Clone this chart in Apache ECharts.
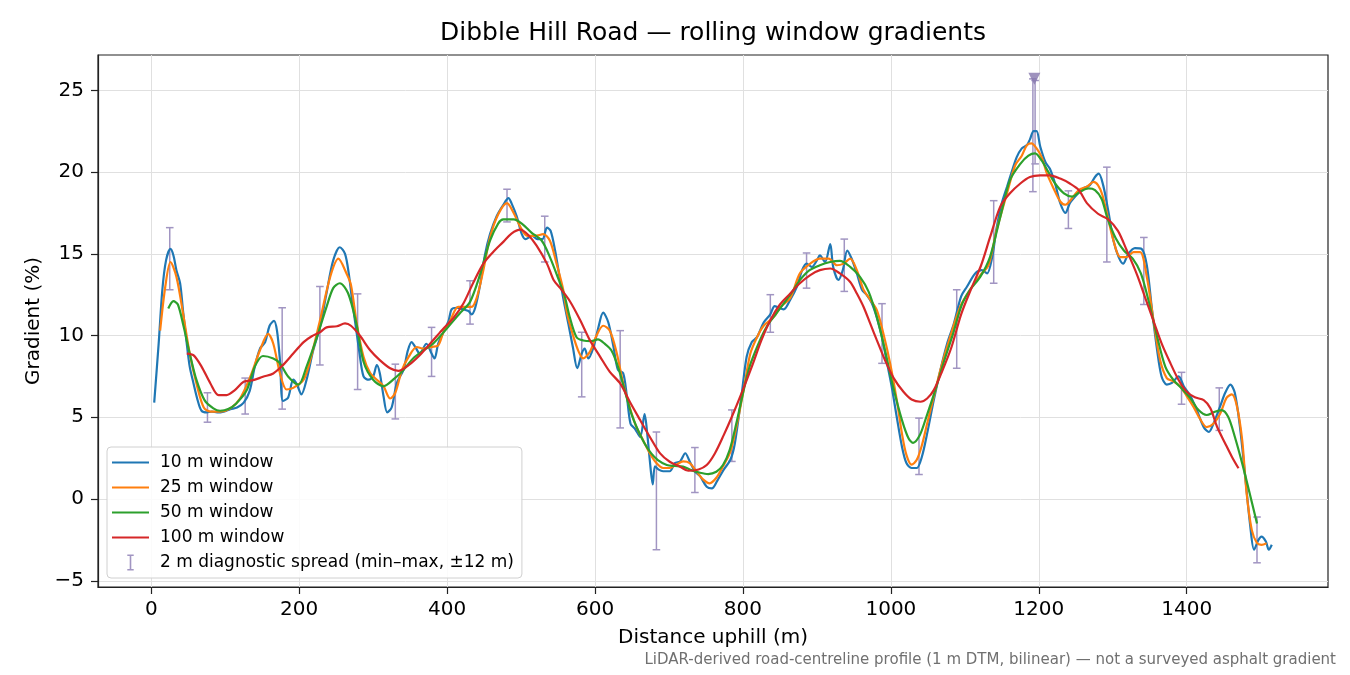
<!DOCTYPE html>
<html>
<head>
<meta charset="utf-8">
<script src="https://cdn.jsdelivr.net/npm/echarts@6/dist/echarts.min.js"></script>
<style>
html, body { margin: 0; padding: 0; background: #fff; }
#chart { width: 1350px; height: 675px; }
</style>
</head>
<body>
<div id="chart"></div>
<script>
// distance (m), gradient (%)
var win10 = [[4,5.9],[10,9.5],[15,12.8],[20,14.6],[26,15.3],[30,14.9],[34,14.0],[39,13.2],[43,11.5],[48,9.5],
  [52,8.1],[57,7.1],[63,6.0],[68,5.4],[75,5.3],[82,5.35],[89,5.3],[98,5.35],[107,5.5],[116,5.6],
  [125,5.9],[133,6.6],[140,8.1],[147,9.2],[154,9.6],[160,10.6],[166,10.9],[170,10.3],[174,8.5],[178,6.0],
  [185,6.2],[192,7.3],[197,7.0],[203,6.4],[210,7.3],[219,9.1],[228,10.5],[237,12.6],[246,14.6],[255,15.4],
  [262,15.0],[267,13.8],[272,12.0],[277,10.4],[281,9.1],[287,7.5],[294,7.3],[300,7.5],[305,8.2],[309,7.7],
  [314,6.3],[319,5.3],[325,5.6],[332,7.1],[341,7.9],[347,9.1],[352,9.6],[357,9.3],[363,8.9],[372,9.5],
  [379,8.9],[383,8.6],[388,9.5],[395,10.2],[402,10.9],[406,11.6],[413,11.7],[422,11.6],[429,11.5],[433,11.3],
  [438,11.7],[445,13.2],[451,14.9],[458,16.2],[467,17.3],[476,18.0],[483,18.4],[487,18.1],[494,17.3],[501,16.2],
  [506,15.9],[515,16.1],[522,15.9],[529,15.9],[535,16.6],[540,16.4],[546,15.2],[552,13.6],[557,12.3],[564,10.7],
  [570,9.3],[576,8.0],[582,8.9],[586,9.2],[591,8.6],[598,9.3],[604,10.4],[611,11.4],[618,10.8],[625,9.3],
  [631,7.9],[638,7.7],[643,6.3],[648,4.6],[654,4.3],[661,3.8],[667,5.2],[671,3.8],[674,2.4],[678,0.9],
  [681,2.0],[686,1.8],[692,1.7],[701,1.7],[708,2.2],[715,2.3],[722,2.8],[728,2.3],[735,1.7],[742,1.4],
  [751,0.75],[758,0.65],[765,1.1],[774,1.8],[783,2.4],[789,3.4],[798,6.3],[805,8.7],[812,9.6],[819,9.9],
  [828,10.8],[837,11.3],[843,11.8],[855,11.6],[864,12.2],[873,13.0],[880,14.0],[886,14.4],[893,14.2],[900,14.6],
  [904,14.9],[911,14.5],[918,15.6],[922,14.2],[929,13.4],[935,14.0],[941,15.2],[947,14.7],[954,13.8],[961,12.8],
  [967,12.5],[974,12.0],[981,11.1],[988,9.9],[994,8.5],[1001,6.9],[1008,5.0],[1015,3.2],[1021,2.2],[1028,1.9],
  [1035,1.9],[1042,2.6],[1049,4.0],[1058,6.05],[1067,7.9],[1076,9.5],[1085,10.7],[1095,12.4],[1103,13.0],[1114,13.8],
  [1123,14.0],[1130,13.8],[1137,14.8],[1143,16.6],[1150,18.1],[1157,19.1],[1164,20.1],[1170,20.9],[1177,21.45],[1184,21.65],
  [1188,22.0],[1193,22.5],[1197,22.5],[1202,21.55],[1209,20.6],[1215,20.2],[1222,19.3],[1229,18.1],[1236,17.5],[1242,18.1],
  [1251,18.6],[1260,19.0],[1269,19.2],[1276,19.7],[1281,19.9],[1287,19.2],[1294,17.6],[1301,15.8],[1308,14.8],[1314,14.4],
  [1321,15.0],[1330,15.35],[1339,15.3],[1346,14.3],[1353,11.6],[1360,9.1],[1366,7.5],[1373,7.0],[1380,7.1],[1389,7.5],
  [1396,6.9],[1405,6.3],[1414,5.4],[1423,4.4],[1430,4.1],[1436,4.6],[1445,5.65],[1452,6.5],[1459,7.0],[1465,6.5],
  [1472,4.4],[1479,1.4],[1486,-1.7],[1491,-3.1],[1497,-2.5],[1501,-2.3],[1507,-2.6],[1511,-3.1],[1515,-2.8]];

var win25 = [[12,10.3],[19,13.0],[26,14.5],[34,13.6],[43,11.35],[52,8.9],[62,6.9],[71,5.6],[80,5.35],[93,5.35],
  [107,5.55],[120,6.15],[134,7.5],[147,9.1],[158,10.1],[165,9.5],[174,7.7],[183,6.7],[192,6.8],[206,7.3],
  [215,8.5],[228,10.9],[242,13.6],[253,14.7],[264,13.8],[270,13.1],[278,10.7],[287,8.7],[296,7.7],[305,7.3],
  [314,6.9],[323,6.15],[330,6.5],[339,7.9],[348,8.7],[359,9.3],[368,9.2],[379,9.3],[388,9.4],[395,10.2],
  [404,10.9],[415,11.75],[424,11.75],[433,11.75],[440,12.3],[449,14.0],[458,16.0],[469,17.4],[481,18.1],[490,17.5],
  [499,16.65],[508,16.1],[519,16.1],[530,16.2],[539,15.8],[548,14.4],[557,12.8],[562,11.4],[571,9.9],[578,9.0],
  [584,8.6],[593,9.0],[602,10.0],[611,10.6],[620,10.3],[629,9.0],[638,7.1],[647,5.6],[656,4.4],[665,3.6],
  [674,2.8],[683,2.2],[692,1.9],[701,1.9],[710,2.1],[719,2.3],[728,2.2],[737,1.7],[746,1.2],[755,0.96],
  [764,1.3],[773,2.0],[783,2.9],[792,4.6],[801,6.7],[810,8.9],[819,9.9],[828,10.6],[841,11.1],[852,11.8],
  [864,12.3],[877,13.8],[891,14.4],[904,14.7],[916,14.7],[927,14.3],[936,14.4],[945,14.7],[954,14.0],[963,12.8],
  [972,12.2],[981,11.55],[990,10.1],[999,8.3],[1008,6.05],[1015,4.0],[1021,2.7],[1028,2.1],[1035,2.4],[1042,3.3],
  [1049,4.6],[1058,6.25],[1067,7.9],[1080,9.9],[1094,11.8],[1107,12.8],[1121,13.7],[1132,14.3],[1143,16.45],[1157,18.7],
  [1168,20.4],[1177,21.0],[1184,21.65],[1190,21.75],[1197,21.45],[1204,20.9],[1211,19.9],[1220,19.0],[1229,18.2],[1236,18.0],
  [1245,18.4],[1254,18.9],[1265,19.1],[1274,19.4],[1280,19.2],[1286,18.6],[1294,17.1],[1301,15.8],[1310,14.8],[1319,14.8],
  [1328,15.1],[1337,15.1],[1346,13.6],[1355,10.95],[1364,8.5],[1373,7.4],[1382,7.2],[1391,6.9],[1400,6.3],[1409,5.65],
  [1418,4.9],[1427,4.4],[1436,4.6],[1445,5.2],[1454,6.2],[1461,6.4],[1468,5.65],[1475,3.6],[1481,0.35],[1488,-1.9],
  [1495,-2.7],[1501,-2.8],[1508,-2.7]];

var win50 = [[23,11.65],[30,12.1],[36,11.9],[43,10.7],[52,8.9],[61,7.3],[72,6.05],[84,5.55],[93,5.4],[104,5.5],
  [115,5.85],[129,6.65],[140,8.1],[151,8.75],[165,8.6],[174,8.3],[185,7.5],[199,7.0],[210,8.1],[224,9.9],
  [237,11.75],[246,12.9],[255,13.2],[266,12.6],[277,10.8],[287,8.4],[300,7.3],[314,6.9],[327,7.3],[341,7.9],
  [354,8.6],[368,9.1],[381,9.5],[399,10.4],[417,11.35],[431,12.06],[445,13.8],[458,15.8],[469,16.85],[476,17.1],
  [490,17.1],[501,16.85],[514,16.3],[528,15.8],[539,14.8],[551,13.4],[559,12.4],[566,11.1],[575,9.9],[584,9.7],
  [595,9.66],[604,9.76],[613,9.5],[622,9.1],[631,8.1],[640,6.66],[649,5.24],[658,4.22],[667,3.4],[676,2.79],
  [685,2.38],[697,2.08],[708,2.02],[719,1.98],[730,1.77],[742,1.61],[753,1.53],[764,1.67],[773,2.08],[782,3.0],
  [791,4.62],[800,6.46],[809,8.1],[821,9.5],[832,10.53],[845,11.35],[864,12.5],[877,13.39],[890,14.0],[904,14.3],
  [918,14.5],[931,14.57],[945,14.2],[958,13.6],[970,12.67],[981,11.14],[992,9.1],[1003,6.87],[1015,4.83],[1024,3.7],
  [1030,3.44],[1039,3.9],[1048,5.03],[1060,6.66],[1071,8.3],[1084,10.1],[1096,11.9],[1107,12.8],[1121,13.6],[1134,14.8],
  [1148,17.27],[1161,19.5],[1175,20.5],[1186,21.0],[1195,21.14],[1204,20.7],[1213,20.0],[1222,19.3],[1234,18.7],[1245,18.5],
  [1256,18.8],[1267,19.0],[1276,18.9],[1285,18.35],[1293,17.15],[1304,15.95],[1315,15.2],[1327,14.7],[1338,13.8],[1348,12.2],
  [1360,9.93],[1371,8.1],[1382,7.28],[1393,6.77],[1405,6.16],[1416,5.44],[1427,5.14],[1438,5.34],[1447,5.44],[1456,5.03],
  [1465,3.81],[1475,2.18],[1484,0.55],[1495,-1.49]];

var win100 = [[48,8.9],[57,8.8],[68,8.1],[80,7.07],[91,6.36],[102,6.36],[113,6.66],[125,7.17],[138,7.27],[151,7.48],
  [165,7.68],[178,8.19],[192,8.9],[206,9.6],[217,9.96],[228,10.2],[237,10.5],[251,10.57],[262,10.74],[270,10.6],
  [282,10.0],[296,9.1],[309,8.5],[323,8.0],[334,7.84],[348,8.19],[363,8.8],[377,9.5],[393,10.33],[408,11.04],
  [422,11.96],[435,13.2],[449,14.4],[462,15.1],[476,15.73],[487,16.24],[499,16.48],[510,16.14],[521,15.5],[535,14.4],
  [544,13.4],[553,12.9],[566,12.1],[580,10.94],[593,9.72],[607,8.7],[620,7.78],[634,7.07],[647,5.95],[661,4.83],
  [674,3.81],[688,2.79],[701,2.28],[715,1.98],[726,1.73],[740,1.81],[751,2.08],[762,2.79],[774,3.91],[785,5.03],
  [798,6.46],[812,8.1],[825,9.72],[837,10.94],[850,11.9],[864,12.57],[877,13.2],[891,13.7],[904,14.0],[918,14.1],
  [931,13.8],[945,13.28],[954,12.57],[963,11.76],[972,10.74],[981,9.72],[992,8.5],[1004,7.38],[1017,6.56],[1028,6.09],
  [1040,5.95],[1049,6.15],[1058,6.66],[1069,7.78],[1082,9.3],[1095,11.3],[1108,12.8],[1122,14.3],[1134,16.0],[1148,17.9],
  [1161,18.7],[1175,19.3],[1188,19.7],[1202,19.8],[1215,19.8],[1229,19.6],[1242,19.3],[1254,18.9],[1265,18.1],[1280,17.45],
  [1294,17.1],[1307,16.4],[1319,15.2],[1333,13.7],[1345,12.17],[1355,10.9],[1366,9.52],[1378,8.3],[1389,7.28],[1400,6.56],
  [1411,6.22],[1423,6.05],[1432,5.55],[1441,4.42],[1452,3.4],[1461,2.59],[1470,1.88]];

// 2 m diagnostic spread: centre distance, min, max
var spreadX = [25,76,127,177,228,279,330,379,431,481,532,582,634,683,735,785,837,886,937,988,1038,1089,1139,1192,1195,1240,1292,1342,1393,1444,1495];
var spreadMin = [12.8,4.7,5.2,5.5,8.2,6.7,4.9,7.5,10.7,16.95,14.5,6.25,4.35,-3.1,0.4,2.3,10.2,12.9,12.7,8.3,1.5,8.0,13.2,18.8,20.5,16.55,14.5,11.9,5.8,4.2,-3.9];
var spreadMax = [16.6,6.5,7.4,11.7,13.0,12.55,8.25,10.5,13.35,18.95,17.3,10.2,10.3,4.1,3.15,5.45,12.5,15.05,15.9,11.95,4.95,12.8,18.25,25.7,25.6,18.85,20.3,16.0,7.75,6.8,-1.1];

var steepest = [[1194, 25.7]];

var xTicks = [0, 200, 400, 600, 800, 1000, 1200, 1400];
var yTicks = [-5, 0, 5, 10, 15, 20, 25];

var spreadData = [];
for (var i = 0; i < spreadX.length; i++) {
    spreadData.push([spreadX[i], spreadMin[i], spreadMax[i]]);
}

var font = 'DejaVu Sans';
var spreadColor = '#a195c2';
var lineIcon = 'path://M0,0H37V2.2H0Z';

function renderSpread(params, api) {
    var lo = api.coord([api.value(0), api.value(1)]);
    var hi = api.coord([api.value(0), api.value(2)]);
    var w = 3.8;
    var st = { stroke: spreadColor, lineWidth: 1.5, fill: null };
    return {
        type: 'group',
        children: [
            { type: 'line', shape: { x1: lo[0], y1: lo[1], x2: hi[0], y2: hi[1] }, style: st },
            { type: 'line', shape: { x1: lo[0] - w, y1: lo[1], x2: lo[0] + w, y2: lo[1] }, style: st },
            { type: 'line', shape: { x1: hi[0] - w, y1: hi[1], x2: hi[0] + w, y2: hi[1] }, style: st }
        ]
    };
}

function lineSeries(name, data, color, z) {
    return {
        name: name,
        type: 'line',
        data: data,
        symbol: 'none',
        smooth: 0.3,
        z: z,
        lineStyle: { color: color, width: 2.2 },
        itemStyle: { color: color }
    };
}

var myChart = echarts.init(document.getElementById('chart'));

var option = {
    animation: false,
    backgroundColor: '#fff',
    title: {
        text: 'Dibble Hill Road \u2014 rolling window gradients',
        left: 713,
        top: 21,
        padding: 0,
        textAlign: 'center',
        textStyle: { fontFamily: font, fontSize: 25, fontWeight: 'normal', color: '#000' }
    },
    grid: {
        left: 98, right: 22, top: 55, bottom: 88,
        show: true, borderColor: '#222', borderWidth: 1.2, backgroundColor: 'transparent'
    },
    legend: {
        orient: 'vertical',
        left: 107,
        top: 447,
        padding: [7, 8, 7, 5],
        itemWidth: 37,
        itemHeight: 16,
        itemGap: 8,
        backgroundColor: 'rgba(255,255,255,0.85)',
        borderColor: '#d0d0d0',
        borderWidth: 1,
        borderRadius: 4,
        textStyle: { fontFamily: font, fontSize: 17, color: '#000', padding: [0, 0, 0, 6] },
        data: [
            { name: '10 m window', icon: lineIcon },
            { name: '25 m window', icon: lineIcon },
            { name: '50 m window', icon: lineIcon },
            { name: '100 m window', icon: lineIcon },
            { name: '2 m diagnostic spread (min\u2013max, \u00b112 m)',
              icon: 'path://M0,0H8V2H5V18H8V20H0V18H3V2H0Z' }
        ]
    },
    xAxis: {
        type: 'value',
        min: -72,
        max: 1591,
        splitNumber: 8,
        name: 'Distance uphill (m)',
        nameLocation: 'middle',
        nameGap: 41,
        nameTextStyle: { fontFamily: font, fontSize: 20, color: '#000' },
        axisLine: { onZero: false, lineStyle: { color: '#222', width: 1.2 } },
        axisTick: { show: true, length: 7, customValues: xTicks, lineStyle: { color: '#222', width: 1.2 } },
        axisLabel: {
            customValues: xTicks, margin: 13, fontFamily: font, fontSize: 20, color: '#000',
            formatter: function (v) { return String(v); }
        },
        splitLine: { show: true, lineStyle: { color: '#e0e0e0', width: 1 } }
    },
    yAxis: {
        type: 'value',
        min: -5.38,
        max: 27.16,
        splitNumber: 7,
        name: 'Gradient (%)',
        nameLocation: 'middle',
        nameGap: 52,
        nameTextStyle: { fontFamily: font, fontSize: 20, color: '#000' },
        axisLine: { show: true, onZero: false, lineStyle: { color: '#222', width: 1.2 } },
        axisTick: { show: true, length: 7, customValues: yTicks, lineStyle: { color: '#222', width: 1.2 } },
        axisLabel: {
            customValues: yTicks, margin: 14, fontFamily: font, fontSize: 20, color: '#000',
            formatter: function (v) { return v < 0 ? '\u2212' + Math.abs(v) : String(v); }
        },
        splitLine: { show: true, lineStyle: { color: '#e0e0e0', width: 1 } }
    },
    graphic: [{
        type: 'text',
        x: 1336,
        y: 660,
        style: {
            text: 'LiDAR-derived road-centreline profile (1 m DTM, bilinear) \u2014 not a surveyed asphalt gradient',
            align: 'right',
            verticalAlign: 'middle',
            fontFamily: font,
            fontSize: 15,
            fill: '#707070'
        }
    }],
    series: [
        {
            name: '2 m diagnostic spread (min\u2013max, \u00b112 m)',
            type: 'custom',
            renderItem: renderSpread,
            data: spreadData,
            encode: { x: 0, y: [1, 2] },
            itemStyle: { color: spreadColor },
            z: 1
        },
        lineSeries('10 m window', win10, '#1f77b4', 2),
        lineSeries('25 m window', win25, '#ff7f0e', 3),
        lineSeries('50 m window', win50, '#2ca02c', 4),
        lineSeries('100 m window', win100, '#d62728', 5),
        {
            name: 'steepest',
            type: 'scatter',
            data: steepest,
            symbol: 'triangle',
            symbolRotate: 180,
            symbolSize: 12,
            itemStyle: { color: '#8677ad' },
            z: 6
        }
    ]
};

myChart.setOption(option);
</script>
</body>
</html>
